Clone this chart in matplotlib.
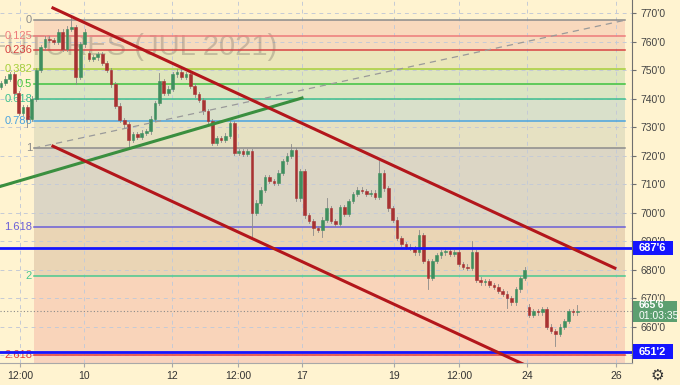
import numpy as np
import matplotlib.pyplot as plt
from matplotlib.patches import Rectangle

plt.rcParams['font.family'] = ['Liberation Sans', 'DejaVu Sans']

# hourly candles, closes left to right
closes = [745.5, 747, 748.5, 742, 735, 737, 733, 740, 750, 758,
          761, 760.5, 760, 763.5, 757.5, 764.5, 765, 747.5, 759, 763.5,
          754, 754.5, 755.5, 752.5, 750, 745, 737.5, 732.5, 731, 725.5,
          727.5, 726.5, 728, 728.5, 733, 738.5, 746, 742, 743.5, 748.5,
          749.5, 747.5, 748.5, 744.5, 741.5, 739.5, 735.5, 732, 724.5, 726,
          725.5, 727, 731.5, 721, 721.5, 720.5, 721.5, 700, 703.5, 708,
          712.5, 711, 710.5, 714, 718, 720, 722, 705, 714.5, 699,
          697, 694.5, 694, 697.5, 701.5, 697, 696, 702, 699.5, 704,
          706.5, 708, 707.5, 706.5, 707, 705.5, 714, 708.5, 701.5, 697.5,
          691, 689, 688, 687.5, 686, 692, 683, 677, 683, 685,
          686, 686.5, 685.5, 686, 682, 681, 680.5, 686, 676.5, 675.5,
          676, 674.5, 674, 672.5, 671.5, 670, 668.5, 673, 677, 680,
          664, 665.5, 665, 666, 660, 658.5, 657.5, 660, 662, 665.5,
          665, 665.6]
first_open = 744.0
gap_opens = {20: 756.0, 120: 667.0}
big_highs = {16: 769.5, 36: 749.0, 40: 750.5, 66: 724.0, 74: 705.0,
             86: 718.0, 95: 694.0, 107: 690.0, 131: 667.5}
big_lows = {6: 730.0, 17: 745.0, 29: 723.0, 57: 691.5, 71: 692.0, 73: 691.5,
            97: 673.0, 115: 666.5, 126: 653.0}

# fibonacci retracement
fib_levels = [0, 0.125, 0.236, 0.382, 0.5, 0.618, 0.786, 1, 1.618, 2, 2.618]
fib_line_colors = ['#8c8c8c', '#ee7b7b', '#d84343', '#a6cf3a', '#3ec23e', '#3cbf8f',
                   '#4aa3df', '#8c8c8c', '#6a5fd8', '#49c98f', '#e53b3b']
fib_fill_colors = ['#f9d9bd', '#f6dbbe', '#ebe6bb', '#dfe6bd', '#dbe5c3', '#d9e0ca',
                   '#e6e1c2', '#dcd6c5', '#ead5b5', '#f9d4ba', '#f8d3bd']
fib_price0 = 767.5
fib_price1 = 722.6
fib_x = [7.5, 141.8]

# drawings (bar index, price)
red_upper = ([11.8, 139.5], [771.8, 680.5])
red_lower = ([11.8, 119.1], [723.3, 646.5])
green_line = ([-1.0, 68.4], [708.8, 740.2])
trend_dash = ([7.5, 141.8], [722.6, 767.5])
blue_levels = [687.6, 651.2]
last_price = 665.6

tick_pos = [4.3, 18.9, 38.9, 53.9, 68.4, 89.3, 104.1, 119.5, 139.8]
tick_labels = ['12:00', '10', '12', '12:00', '17', '19', '12:00', '24', '26']
price_ticks = list(range(650, 771, 10))

bg = '#fff3d0'
fig = plt.figure(figsize=(6.8, 3.85), dpi=100, facecolor=bg)
ax = fig.add_axes([0, 22 / 385, 632 / 680, 363 / 385])
ax.set_facecolor(bg)
ax.set_xlim(-0.23, 143.4)
ax.set_ylim(647.2, 774.6)

# fib bands
prices = [fib_price0 - r * (fib_price0 - fib_price1) for r in fib_levels]
for k in range(len(prices)):
    lo = prices[k + 1] if k + 1 < len(prices) else 640
    ax.fill_between(fib_x, lo, prices[k], color=fib_fill_colors[k], lw=0, zorder=1)
    ax.plot(fib_x, [prices[k]] * 2, color=fib_line_colors[k], lw=1.1, zorder=3)
    ax.text(7.05, prices[k], str(fib_levels[k]), color=fib_line_colors[k],
            ha='right', va='center', fontsize=8, zorder=3)

# grid
for p in price_ticks:
    ax.axhline(p, color='#c5cad6', lw=0.7, ls=(0, (4, 4)), zorder=1.5)
for t in tick_pos:
    ax.axvline(t, color='#c5cad6', lw=0.7, ls=(0, (4, 4)), zorder=1.5)

# watermark
ax.text(62.7, 758.0, 'RTS INDEX FUTURES (JUL 2021)', ha='right', va='center',
        fontsize=21, color='#777066', alpha=0.35, zorder=2, clip_on=True)

# candles
opens = []
prev = first_open
for i, c in enumerate(closes):
    o = gap_opens.get(i, prev)
    opens.append(o)
    prev = c
for i, (o, c) in enumerate(zip(opens, closes)):
    hi = big_highs.get(i, max(o, c) + 0.8)
    lo = big_lows.get(i, min(o, c) - 0.8)
    col = '#3f8f5f' if c >= o else '#a83232'
    ax.plot([i, i], [lo, hi], color='#8a8a8a', lw=0.6, zorder=4)
    h = max(abs(c - o), 0.4)
    ax.add_patch(Rectangle((i - 0.3, min(o, c)), 0.6, h, fc=col, ec=col,
                           lw=0.4, zorder=5))

# horizontal levels
for lvl in blue_levels:
    ax.axhline(lvl, color='#1414ff', lw=2.0, zorder=6)
ax.axhline(last_price, color='#8a8a8a', lw=0.8, ls=(0, (1, 2)), zorder=4)

# trend lines
ax.plot(*trend_dash, color='#9a9a9a', lw=0.9, ls=(0, (5, 4)), zorder=6)
ax.plot(*green_line, color='#3a8f3f', lw=2.2, zorder=6)
ax.plot(*red_upper, color='#b3161b', lw=2.2, zorder=6)
ax.plot(*red_lower, color='#b3161b', lw=2.2, zorder=6)

# axes styling
for s in ['top', 'left']:
    ax.spines[s].set_visible(False)
ax.spines['right'].set_color('#6f6f6f')
ax.spines['bottom'].set_color('#a8a8a8')
ax.yaxis.tick_right()
ax.set_yticks(price_ticks)
ax.set_yticklabels([f"{p}'0" for p in price_ticks])
ax.set_xticks(tick_pos)
ax.set_xticklabels(tick_labels)
ax.tick_params(axis='y', length=3, color='#6f6f6f', labelsize=7.5,
               labelcolor='#444444', pad=3)
ax.tick_params(axis='x', length=3, color='#a8a8a8', labelsize=7.5,
               labelcolor='#333333', pad=3)

# price boxes on the right axis
tr = ax.get_yaxis_transform()
for lvl in blue_levels:
    ax.add_patch(Rectangle((1.002, lvl - 2.5), 40 / 632, 5.0, fc='#1414ff',
                           ec='none', transform=tr, clip_on=False, zorder=10))
    ax.text(1.011, lvl, f"{lvl:.1f}".replace('.', "'"), color='white',
            fontsize=8, fontweight='bold', ha='left', va='center', transform=tr,
            clip_on=False, zorder=11)
ax.add_patch(Rectangle((1.002, 661.6), 44 / 632, 7.4, fc='#5c9f70', ec='none',
                       transform=tr, clip_on=False, zorder=10))
ax.text(1.011, 667.4, f"{last_price:.1f}".replace('.', "'"), color='white',
        fontsize=7.5, fontweight='bold', ha='left', va='center', transform=tr,
        clip_on=False, zorder=11)
ax.text(1.011, 663.6, '01:03:35', color='white', fontsize=7.5, ha='left',
        va='center', transform=tr, clip_on=False, zorder=11)

fig.text(657 / 680, 1 - 376 / 385, '\u2699', ha='center', va='center',
         fontsize=11, color='#333333')

plt.savefig('out.png', dpi=100, facecolor=bg)
